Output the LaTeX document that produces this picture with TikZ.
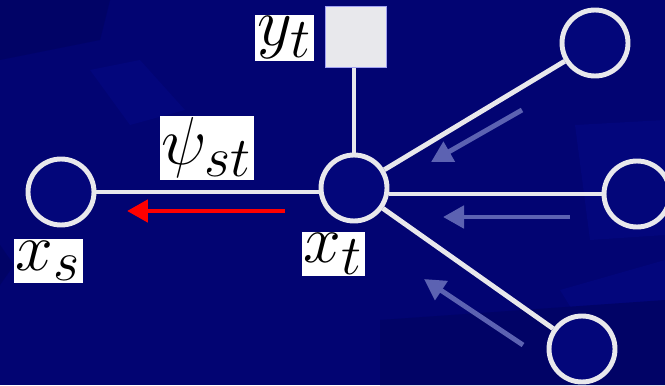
\documentclass[tikz,border=0pt]{standalone}
\usepackage{amsmath,amssymb}
\usetikzlibrary{arrows.meta}
\definecolor{bgnavy}{RGB}{2,4,114}
\definecolor{bglight}{RGB}{3,6,124}
\definecolor{bgdark}{RGB}{1,3,102}
\definecolor{nodefill}{RGB}{3,6,122}
\definecolor{edgegray}{RGB}{232,232,236}
\definecolor{msgblue}{RGB}{92,98,178}
\tikzset{
  >={Triangle[length=4.2mm,width=4.4mm]},
  var/.style={
    draw=edgegray, fill=nodefill, circle, line width=2.8pt,
    minimum size=1.32cm, inner sep=0pt
  },
  obs/.style={
    draw=edgegray!70!blue, fill=edgegray, rectangle, line width=0.6pt,
    minimum size=1.22cm, inner sep=0pt
  },
  lbl/.style={
    fill=white, rectangle, inner sep=0.8pt, text=black,
    font=\Huge, scale=1.55
  },
  link/.style={draw=edgegray, line width=2.8pt},
  msg/.style={->, draw=msgblue, line width=2.8pt},
  mainmsg/.style={->, draw=red, line width=2.8pt},
}

\begin{document}
\begin{tikzpicture}[x=0.02cm, y=-0.02cm]
  % background
  \fill[bgnavy] (0,0) rectangle (665,385);
  \useasboundingbox (0,0) rectangle (665,385);
  \fill[bgdark] (0,0) -- (110,0) -- (100,40) -- (0,60) -- cycle;
  \fill[bglight] (90,70) -- (140,60) -- (185,110) -- (130,125) -- cycle;
  \fill[bglight] (575,125) -- (665,120) -- (665,235) -- (590,240) -- cycle;
  \fill[bglight] (560,290) -- (665,260) -- (665,345) -- (600,355) -- cycle;
  \fill[bgdark] (0,245) -- (14,265) -- (0,285) -- cycle;
  \fill[bgdark] (380,320) -- (665,300) -- (665,385) -- (380,385) -- cycle;

  % variables
  \node[var] (xs) at (61,192) {};
  \node[var] (xt) at (354,188) {};
  \node[var] (nu) at (595,43) {};
  \node[var] (nm) at (637,194) {};
  \node[var] (nd) at (582,349) {};
  \node[obs] (yt) at (356,37) {};

  % edges
  \draw[link] (xs) -- (xs -| xt.west);
  \draw[link] (yt.south -| xt.north) -- (xt);
  \draw[link] (xt) -- (nu);
  \draw[link] (xt.east |- nm) -- (nm);
  \draw[link] (xt) -- (nd);

  % labels
  \node[lbl] (lys) at (284.5,38) {$y_t$};
  \node[lbl] (lpsi) at (207,148) {$\psi_{st}$};
  \node[lbl] (lxs) at (48.5,261) {$x_s$};
  \node[lbl] (lxt) at (333.5,254) {$x_t$};

  % messages
  \coordinate (ma) at (285,211);
  \coordinate (mb) at (127,211);
  \coordinate (ua) at (522,110);
  \coordinate (ub) at (431,162);
  \coordinate (ca) at (570,217);
  \coordinate (cb) at (443,217);
  \coordinate (da) at (523,345);
  \coordinate (db) at (424,279);
  \draw[mainmsg] (ma) -- (mb);
  \draw[msg] (ua) -- (ub);
  \draw[msg] (ca) -- (cb);
  \draw[msg] (da) -- (db);
\end{tikzpicture}
\end{document}
